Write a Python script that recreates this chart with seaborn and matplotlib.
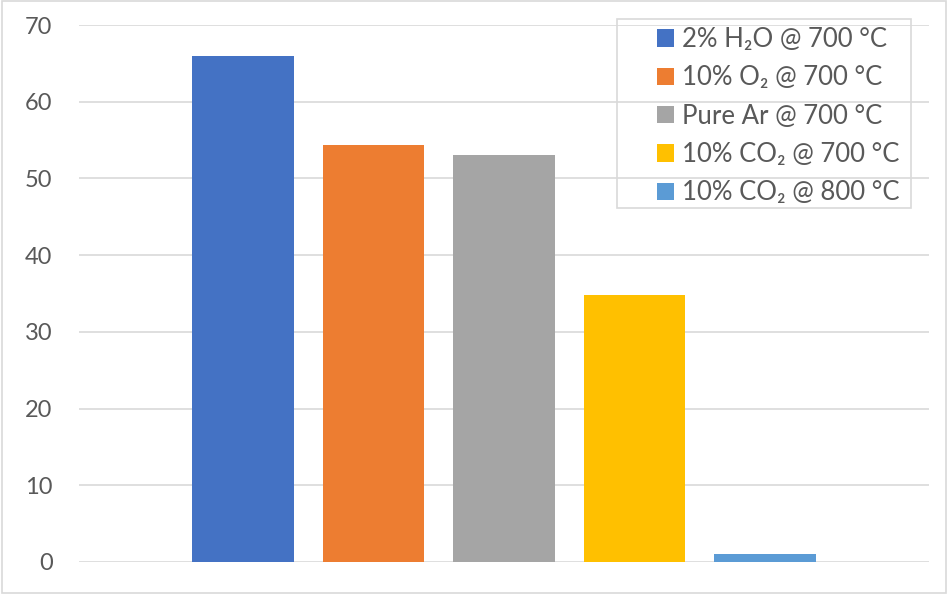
import matplotlib
matplotlib.use("Agg")
import matplotlib.pyplot as plt
from matplotlib.patches import Patch, Rectangle
import seaborn as sns
import pandas as pd

# Series (one bar each) and their measured values
conditions = [
    "2% H\u2082O @ 700 \u00b0C",
    "10% O\u2082 @ 700 \u00b0C",
    "Pure Ar @ 700 \u00b0C",
    "10% CO\u2082 @ 700 \u00b0C",
    "10% CO\u2082 @ 800 \u00b0C",
]
values = [66, 54.4, 53, 34.8, 1]
colors = ["#4472C4", "#ED7D31", "#A5A5A5", "#FFC000", "#5B9BD5"]
y_ticks = [0, 10, 20, 30, 40, 50, 60, 70]

sns.set_theme(style="white")
plt.rcParams["font.family"] = ["Lato", "DejaVu Sans"]

W, H = 948, 597
fig = plt.figure(figsize=(W / 100, H / 100), dpi=100)
ax = fig.add_axes([79 / W, 1 - 562 / H, (929 - 79) / W, (562 - 25) / H])

df = pd.DataFrame({"condition": conditions, "value": values})
sns.barplot(data=df, x="condition", y="value", hue="condition",
            palette=colors, width=0.78, legend=False, ax=ax,
            saturation=1, edgecolor="none")

ax.set_xlim(-1.257, 5.257)
ax.set_ylim(0, 70)
ax.set_yticks(y_ticks)
ax.set_yticklabels([str(t) for t in y_ticks])
ax.set_xticks([])
ax.set_xlabel("")
ax.set_ylabel("")
ax.yaxis.grid(True, color="#D9D9D9", linewidth=1.2)
ax.set_axisbelow(True)
for s in ax.spines.values():
    s.set_visible(False)
ax.tick_params(axis="y", length=0, pad=19, labelsize=17, labelcolor="#595959")

# Legend with a manually drawn frame
handles = [Patch(facecolor=c, edgecolor="none", label=l) for c, l in zip(colors, conditions)]
fig.legend(handles=handles, loc="upper left",
           bbox_to_anchor=(657 / W, 1 - 27 / H), bbox_transform=fig.transFigure,
           frameon=False, fontsize=18.5, borderpad=0, borderaxespad=0,
           handlelength=0.66, handleheight=0.66, handletextpad=0.3,
           labelspacing=0.52, labelcolor="#595959")
fig.patches.append(Rectangle((617 / W, 1 - 208 / H), (911 - 617) / W, (208 - 19) / H,
                             transform=fig.transFigure, fill=False,
                             edgecolor="#D9D9D9", linewidth=1.2))

# Chart-area border
fig.patches.append(Rectangle((2 / W, 1 - 593 / H), (946 - 2) / W, (593 - 1) / H,
                             transform=fig.transFigure, fill=False,
                             edgecolor="#D9D9D9", linewidth=1.2))

fig.savefig("out.png", dpi=100, facecolor="white")
